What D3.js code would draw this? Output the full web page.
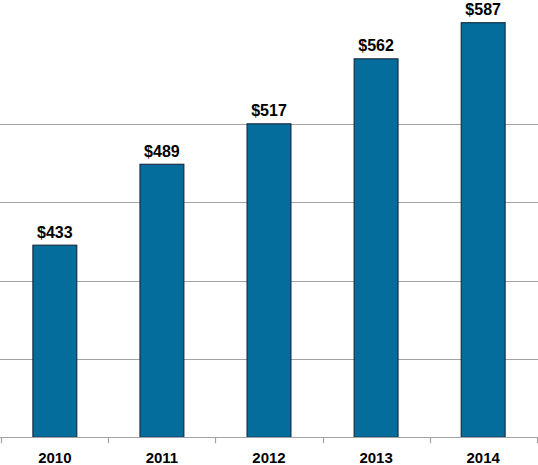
<!DOCTYPE html>
<html>
<head>
<meta charset="utf-8">
<script src="https://cdn.jsdelivr.net/npm/d3@7"></script>
<style>
  html, body { margin: 0; padding: 0; background: #fff; }
  svg { display: block; }
</style>
</head>
<body>
<svg id="chart" width="538" height="465"></svg>
<script>
const years = ["2010", "2011", "2012", "2013", "2014"];
const values = [433, 489, 517, 562, 587];
const gridValues = [354.2, 408.4, 462.6, 516.8];
const yDomain = [300, 600];

const svg = d3.select("#chart");
const baseY = 437.3;
const x = d3.scaleBand().domain(years).range([1.3, 536.7]).paddingInner(0.59).paddingOuter(0.295);
const y = d3.scaleLinear().domain(yDomain).range([baseY, baseY - 300 * 1.4446]);

// gridlines
svg.append("g").selectAll("line").data(gridValues).join("line")
  .attr("x1", 0).attr("x2", 538)
  .attr("y1", d => Math.round(y(d)) + 0.5).attr("y2", d => Math.round(y(d)) + 0.5)
  .attr("stroke", "#a3a3a3").attr("stroke-width", 1.2);

// bars
svg.append("g").selectAll("rect").data(values).join("rect")
  .attr("x", (d, i) => x(years[i]))
  .attr("y", d => y(d))
  .attr("width", x.bandwidth())
  .attr("height", d => y(yDomain[0]) - y(d))
  .attr("fill", "#056d9c")
  .attr("stroke", "#15273a").attr("stroke-width", 1.1);

// axis
const xEdge = d3.scaleLinear().domain([0, years.length]).range([1.3, 536.7]);
const axis = svg.append("g");
axis.append("line").attr("x1", 0).attr("x2", 538)
  .attr("y1", Math.round(baseY) + 0.5).attr("y2", Math.round(baseY) + 0.5)
  .attr("stroke", "#a3a3a3").attr("stroke-width", 1.2);
axis.selectAll("line.tick").data(d3.range(years.length + 1)).join("line")
  .attr("class", "tick")
  .attr("x1", d => Math.round(xEdge(d)) + 0.5).attr("x2", d => Math.round(xEdge(d)) + 0.5)
  .attr("y1", baseY).attr("y2", baseY + 6)
  .attr("stroke", "#a3a3a3").attr("stroke-width", 1.2);
axis.selectAll("text").data(years).join("text")
  .attr("x", d => x(d) + x.bandwidth() / 2)
  .attr("y", baseY + 25.5)
  .attr("text-anchor", "middle")
  .attr("font-family", "'Liberation Sans', Arial, Helvetica, sans-serif")
  .attr("font-weight", "bold").attr("font-size", 15)
  .attr("fill", "#000")
  .text(d => d);

// value labels
svg.append("g").selectAll("text").data(values).join("text")
  .attr("x", (d, i) => x(years[i]) + x.bandwidth() / 2)
  .attr("y", d => y(d) - 7.5)
  .attr("text-anchor", "middle")
  .attr("font-family", "'Liberation Sans', Arial, Helvetica, sans-serif")
  .attr("font-weight", "bold").attr("font-size", 16)
  .attr("fill", "#000")
  .text(d => "$" + d);
</script>
</body>
</html>
